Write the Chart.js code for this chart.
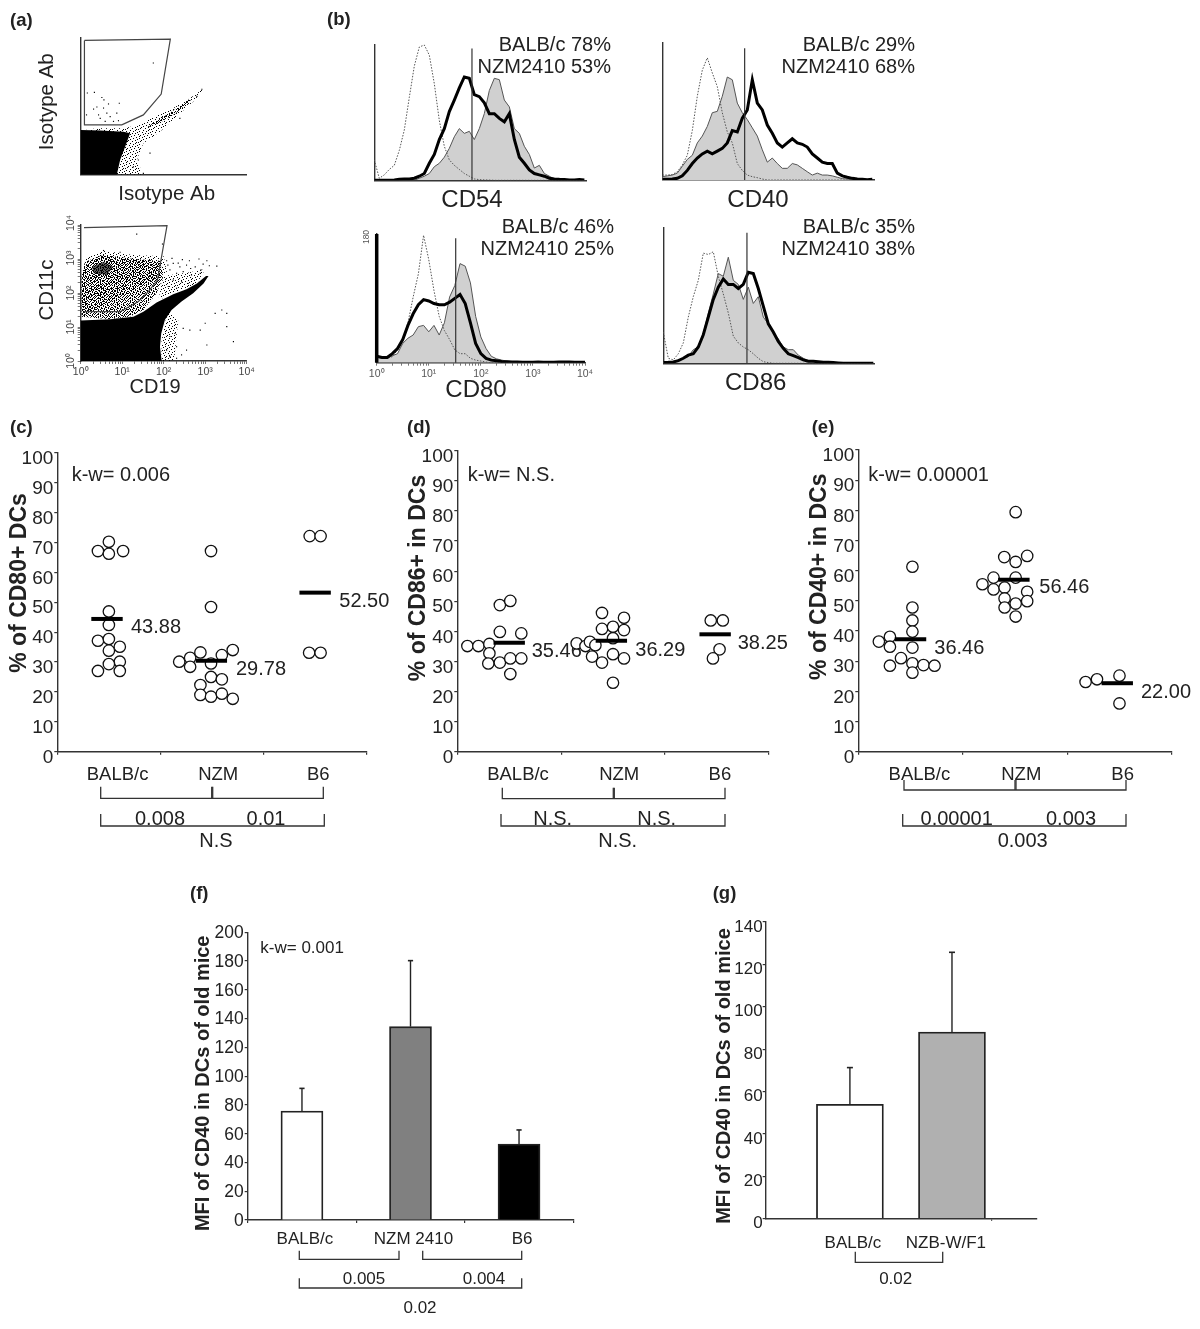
<!DOCTYPE html>
<html>
<head>
<meta charset="utf-8">
<title>DC phenotype</title>
<script src="https://cdn.jsdelivr.net/npm/chart.js@4"></script>
<style>
	html, body { margin: 0; padding: 0; background: #fff; overflow: hidden; }
	#page { position: relative; width: 1200px; height: 1329px; }
	canvas { position: absolute; left: 0; top: 0; }
</style>
</head>
<body>
<div id="page"></div>
<script>
// panel (a): values are log10 decades
var isoBlackX = [0, .87, .95, 1.07, 1.19, 1.03, .47, 0];
var isoBlackY = [0, 0, .43, .82, 1.21, 1.26, 1.29, 1.31];
var isoFuzzX = [.87, 1.51, 1.35, 1.51, 1.91, 2.31, 2.76, 2.97, 2.63, 2.23, 1.83, 1.43, 1.03, .47, .14];
var isoFuzzY = [0, 0, .43, .92, 1.26, 1.70, 2.19, 2.53, 2.24, 1.95, 1.75, 1.46, 1.36, 1.36, 1.33];
var isoStripeX = [1.55, 1.95, 2.35, 2.72, 2.6, 2.2, 1.8];
var isoStripeY = [1.35, 1.55, 1.85, 2.25, 2.2, 1.85, 1.55];
var isoGateX = [.09, 2.16, 1.94, 1.51, .99, .09, .09];
var isoGateY = [3.93, 3.97, 2.36, 1.75, 1.46, 1.46, 3.93];
var isoDotsX = [1.75, .33, .16, .51, .56, .93, .67, .39, .31, .55, .63, .43, .14, .71, .47, .79, .59, .91, .87, 2.8, 2.92, 2.39, 1.51, 1.27, 1.67, 1.39];
var isoDotsY = [3.27, 2.41, 2.39, 2.26, 2.19, 2.09, 2.07, 1.98, 1.92, 1.95, 1.80, 1.75, 1.75, 1.70, 1.65, 1.56, 1.56, 1.58, 1.80, 2.29, 2.5, 1.65, .04, .23, .63, .43];

var cd19BlackX = [0, 1.95, 1.91, 1.94, 2.03, 2.19, 2.43, 2.71, 2.96, 3.08, 3.02, 2.80, 2.55, 2.23, 1.83, 1.51, 1.27, .71, 0];
var cd19BlackY = [0, 0, .42, .81, 1.21, 1.5, 1.75, 1.99, 2.28, 2.5, 2.5, 2.28, 2.11, 1.96, 1.72, 1.45, 1.30, 1.23, 1.19];
var cd19CloudX = [.02, .02, .10, .55, 1.27, 1.91, 1.99, 1.83, 1.51, 1.19, .71];
var cd19CloudY = [1.30, 2.48, 2.92, 3.12, 3.0, 2.95, 2.48, 1.99, 1.50, 1.31, 1.23];
var cd19RimX = [.02, .12, .55, 1.27, 2.0, 2.08, .02];
var cd19RimY = [2.48, 3.02, 3.24, 3.12, 3.08, 2.6, 1.3];
var cd19ClumpX = [.27, .55, .79, .63, .31];
var cd19ClumpY = [2.77, 2.92, 2.77, 2.53, 2.58];
var cd19EdgeX = [1.95, 2.25, 2.35, 2.1, 2.05, 1.95];
var cd19EdgeY = [0, 0, 1.2, 1.5, 1.2, .6];
var cd19RightX = [1.99, 2.6, 3.0, 2.8, 2.15, 1.87];
var cd19RightY = [2.5, 2.6, 2.7, 2.28, 1.96, 1.78];
var cd19GateX = [.08, 2.08, 1.85, 1.63, 1.39, .95, .08];
var cd19GateY = [3.92, 3.98, 2.38, 2.04, 1.75, 1.45, 1.45];
var cd19DotsX = [1.35, 1.97, .55, .95, 2.23, 2.39, 2.55, 2.76, 3.04, 3.28, 2.15, 2.31, 2.47, 2.67, 2.23, 2.43, 2.11, 2.31, 2.59, 2.88, 3.40, 3.24, 3.52, 3.00, 3.52, 2.88, 2.47, 2.63, 2.31, 2.55, 3.04, 3.68, 2.15, 2.27, 2.07, 2.15, 2.31, 2.43, 2.07, 2.2, 2.45, 2.62, 2.85, 2.95, 3.1, 2.65, 2.9, 2.35, 2.1];
var cd19DotsY = [3.73, 3.44, 3.25, 3.2, 2.87, 2.77, 2.82, 2.77, 2.95, 2.79, 2.68, 2.58, 2.63, 2.53, 2.38, 2.33, 2.19, 2.14, 2.28, 2.58, 1.50, 1.40, 1.40, 1.11, 1.01, .91, .96, .91, .42, .32, .47, .57, .72, .81, .32, .13, .08, .18, 2.95, 3.02, 2.98, 2.95, 3.0, 2.85, 2.8, 2.72, 2.68, 2.88, 2.82];
var decadeLabels = ["10⁰", "10¹", "10²", "10³", "10⁴"];

// panel (b): histogram heights in % of the plot
var cd54Dotted = [15, 1.5, 4, 8, 11, 22, 37, 61, 84, 98, 99.5, 92, 71, 44, 25, 15, 11, 8, 5, 3, 1, .5, .3, .2, 0, 0, 0, 0, 0, 0, 0, 0, 0, 0, 0, 0, 0, 0, 0, 0, 0, 0, 0];
var cd54Gray = [0, 0, 0, 0, 0, 0, 0, 0, 0, 1.5, 3, 5, 10, 12.5, 17, 23.5, 32, 38, 34.5, 36, 30, 38, 49, 66, 75, 74, 59, 54, 38, 34.5, 25, 19, 9, 11, 5, 3, 1, .3, 0, 0, 0, 0, 0];
var cd54Black = [0, 0, 0, 0, .3, .7, 1, 1, 1.5, 3, 5, 12.5, 19, 30, 38, 50.5, 59, 68, 76, 75, 63, 61.5, 57, 49, 49, 45.5, 43, 49, 30, 17, 12.5, 7.6, 5, 4, 3, 1.5, 1, .7, .5, .2, .2, .5, .2];
var cd40Dotted = [3.6, 3.6, 4, 6, 11, 18, 36, 61, 80, 89, 78, 68, 49, 35, 27, 12, 7, 3.6, 2.4, 1.7, .7, 0, 0, 0, 0, 0, 0, 0, 0, 0, 0, 0, 0, 0, 0, 0, 0, 0, 0, 0, 0, 0, 0];
var cd40Gray = [2.4, 3, 3.6, 5, 10, 15, 18, 27, 32, 39, 49, 50, 61, 75, 73, 56, 49, 44, 38, 32, 22, 13, 16, 12, 8.5, 8.5, 12, 11, 8.5, 6, 3.6, 5, 3.6, 3.6, 3, 2, 1, .7, .5, 0, 0, 0, 0];
var cd40Black = [.5, .5, .7, 1.2, 3, 7, 12, 16, 19, 21, 19, 21, 23, 27, 36, 35, 45, 51, 73, 56, 51, 40, 34, 27, 24, 27, 30, 27, 26, 24, 19, 16, 13, 12, 12, 5, 3, 2, 1.2, .7, .5, .2, .5];
var cd80Dotted = [5, 3.4, 3.4, 4.7, 10, 18, 31, 51, 69, 99, 80, 56, 36, 25, 18, 10, 7, 7, 3.4, 2, 1.3, .5, 0, 0, 0, 0, 0, 0, 0, 0, 0, 0, 0, 0, 0, 0, 0, 0, 0, 0, 0];
var cd80Gray = [5, 4, 3.4, 5.4, 7, 15, 19, 21.5, 28, 29, 24, 29, 21.5, 31, 51, 60, 77, 75, 62, 36, 20, 11, 5, 3, 2, 1.3, .8, .5, .5, .5, .4, .4, .4, .4, .4, .4, .4, .3, .3, .3, .3];
var cd80Black = [5, 4, 4, 7, 11, 18, 29, 38, 45, 49, 48, 46, 45, 45, 47, 50, 53, 46, 31, 15, 7, 3.4, 2, 1.5, 1, .8, .5, .5, .3, .4, .3, .5, .4, .3, .4, .6, .5, .5, .3, .3, .3];
var cd80Spike = [0, 100];
var cd86Dotted = [23, 3.7, 2.5, 7, 15, 34, 49, 61, 81, 80, 82, 64, 51, 37, 20, 15, 12, 10, 7, 3.7, 1.2, .5, 0, 0, 0, 0, 0, 0, 0, 0, 0, 0, 0, 0, 0, 0, 0, 0, 0, 0, 0, 0, 0];
var cd86Gray = [1.2, 1, 1, 2.5, 3.7, 5, 10, 12, 22, 37, 51, 66, 64, 78, 61, 58, 47, 56, 44, 49, 34, 29, 22, 18, 12, 10, 10, 6, 3.7, 2, 1.2, .7, .5, .2, 0, 0, 0, 0, 0, 0, 0, 0, 0];
var cd86Black = [.5, .7, 1, 2, 3.7, 6, 7, 12, 21, 34, 47, 56, 62, 58, 58, 55, 58, 67, 66, 55, 42, 29, 23, 16, 11, 7, 5.6, 4.2, 2.5, 1.5, 1.5, 1.2, .7, .7, .5, .3, 0, 0, 0, 0, 0, 0, 0];
var histMarkers = { cd54: 19.53, cd40: 16.47, cd80: 15.17, cd86: 16.73 };

// panels (c)(d)(e): one value and one swarm slot per mouse
var groupLabels = ["BALB/c", "NZM", "B6"];
var percentTicks = [0, 10, 20, 30, 40, 50, 60, 70, 80, 90, 100];

var cBalbValues = [70.2, 67.1, 66.2, 67.1, 46.9, 42.4, 37.1, 37.7, 35.1, 33.8, 30.1, 29.3, 27.0, 27.0];
var cBalbSlots = [0, -1, 0, 1.3, 0, 0, -1, 0, 1, 0, 1, 0, -1, 1];
var cNzmValues = [67.1, 48.4, 30.1, 31.4, 28.4, 33.2, 32.3, 34, 29.5, 25, 24.2, 22.3, 19, 18.4, 19.4, 17.7];
var cNzmSlots = [-.09, -.09, -3, -2, -2, -1.06, .9, 1.9, -.09, -.09, .9, -1.06, -1.06, -.09, .9, 1.9];
var cB6Values = [72.1, 72.1, 33.1, 33.1];
var cB6Slots = [-.5, .5, -.55, .5];
var cMeans = [44.4, 30.4, 53.2];
var cMeanSlots = [-.17, -.06, 0];

var dBalbValues = [35.1, 35.1, 35.8, 32.7, 29.3, 29.6, 31, 31, 48.7, 50.1, 39.8, 39.3, 25.8];
var dBalbSlots = [-3.8, -2.8, -1.8, -1.8, -1.9, -.85, .1, 1.1, -.85, .1, -.85, 1.1, .1];
var dNzmValues = [36, 35.1, 36.5, 35.4, 31.6, 40.8, 29.6, 46.1, 41.5, 37.7, 32.4, 22.9, 44.5, 40.4, 31];
var dNzmSlots = [-3.3, -2.5, -2.1, -1.6, -1.9, -1, -1, -1, 0, 0, 0, 0, 1, 1, 1];
var dB6Values = [43.6, 43.6, 34, 31];
var dB6Slots = [-.55, .55, .25, -.35];
var dMeans = [36.2, 36.9, 39];
var dMeanSlots = [0, -.15, -.15];

var eBalbValues = [61.3, 47.8, 43.5, 39.8, 34.5, 31, 29.3, 26.2, 38.1, 34.8, 36.5, 28.5, 28.7, 28.5];
var eBalbSlots = [.17, .17, .17, .17, .17, -.86, .17, .17, -1.86, -1.86, -2.86, -1.86, 1.17, 2.17];
var eNzmValues = [79.4, 64.5, 64.9, 62.9, 57.7, 57.7, 55.5, 53.8, 54.4, 50.8, 53, 49.9, 49.1, 47.8, 44.8];
var eNzmSlots = [.06, -.97, 1.1, .06, .06, -1.94, -2.94, -1.94, -.94, -.94, 1.1, 1.1, .06, -.94, .06];
var eB6Values = [23.1, 24, 25.2, 16];
var eB6Slots = [-3.06, -2.03, 0, 0];
var eMeans = [37.3, 57, 22.7];
var eMeanSlots = [0, -.1, -.2];

// panels (f)(g)
var fLabels = ["BALB/c", "NZM 2410", "B6"];
var fMeans = [75.8, 134.4, 52.8];
var fUpper = [91.5, 180.3, 62.6];
var fColors = ["#ffffff", "#808080", "#000000"];
var gLabels = ["BALB/c", "NZB-W/F1"];
var gMeans = [54, 88.1];
var gUpper = [71.3, 125.7];
var gColors = ["#ffffff", "#b0b0b0"];

var FONT = '"Liberation Sans", Arial, sans-serif';
var INK = "#222";
var AXIS = "#333";
var Y_BOX = 52;
var X_BOX = 44;
var logMinor = [0, .301, .477, .602, .699, .778, .845, .903, .954];
var slotWidth = .106;
var columnCentres = [.5, 1.5, 2.5];
var xLabelAt = [.585, 1.56, 2.53];

function pairs(xs, ys) {
	return xs.map(function (x, i) {
		return { x: x, y: ys[i] };
	});
}

function channelPoints(values) {
	return values.map(function (v, i) {
		return { x: i, y: v };
	});
}

// dot textures for the parts of the cytometry plots too dense to read one by one
function stipple(rows) {
	var tile = document.createElement("canvas");
	tile.width = rows[0].length;
	tile.height = rows.length;
	var c = tile.getContext("2d");
	c.fillStyle = "#000";
	rows.forEach(function (row, y) {
		row.split("").forEach(function (cell, x) {
			if (cell == "#") c.fillRect(x, y, 1, 1);
		});
	});
	return c.createPattern(tile, "repeat");
}

var denseDots = stipple([
	"#..#.##..#.#..#.",
	".#...#.#...##..#",
	"..##...#.#...#..",
	"#..#.#...##.#..#",
	".#...##.#...#.#.",
	"#.#.#...#.#...##",
	"..#..#.#..##.#..",
	".#.##....#..#..#",
	"#...#.#.#..#..#.",
	"..#...##..#..#.#",
	".##.#...#...#.#.",
	"#...#.#..##.#...",
	"..#.#..#...#.#.#",
	"#.#...#.#.#...#.",
	"..#.##...#..##..",
	".#...#.#...#...#",
]);
var lightDots = stipple([
	"#....#.......",
	"...#.....#...",
	".......#....#",
	"..#..#.......",
	"#.......#....",
	"....#.....#..",
	".#.......#...",
	"......#.....#",
	"...#.....#...",
	"#......#.....",
	".....#.....#.",
	"..#.......#..",
	"......#.#....",
]);

// every panel is a full page canvas, its plot placed by layout padding,
// so the notes below can use page coordinates
var notesPlugin = {
	id: "notes",
	beforeDatasetsDraw: function (chart, args, opts) {
		var ctx = chart.ctx;
		ctx.save();
		ctx.strokeStyle = AXIS;
		ctx.lineWidth = 1.3;
		(opts.lines || []).forEach(function (line) {
			ctx.beginPath();
			line.forEach(function (p, i) {
				if (i == 0) ctx.moveTo(p[0], p[1]);
				else ctx.lineTo(p[0], p[1]);
			});
			ctx.stroke();
		});
		(opts.texts || []).forEach(function (t) {
			ctx.save();
			ctx.translate(t.x, t.y);
			if (t.rotate) ctx.rotate(-Math.PI / 2);
			ctx.font = t.font || "20px " + FONT;
			ctx.fillStyle = t.color || INK;
			ctx.textAlign = t.align || "left";
			ctx.textBaseline = "alphabetic";
			ctx.fillText(t.text, 0, 0);
			ctx.restore();
		});
		ctx.restore();
	},
};
Chart.register(notesPlugin);

// fixed axis boxes keep the plot area exactly where it is asked for
function fixedBox(scale) {
	if (scale.isHorizontal()) scale.height = X_BOX;
	else scale.width = Y_BOX;
	scale.paddingLeft = 0;
	scale.paddingRight = 0;
	scale.paddingTop = 0;
	scale.paddingBottom = 0;
}

function addChart(area, config, notes) {
	var canvas = document.createElement("canvas");
	canvas.width = 1200;
	canvas.height = 1329;
	document.getElementById("page").appendChild(canvas);
	config.options.responsive = false;
	config.options.animation = false;
	config.options.events = [];
	config.options.layout = {
		padding: { left: area[0] - Y_BOX, top: area[1], right: 1200 - area[2], bottom: 1329 - area[3] - X_BOX },
	};
	config.options.plugins = {
		legend: { display: false },
		tooltip: { enabled: false },
		notes: notes || {},
	};
	config.options.elements = { point: { hoverRadius: 0 } };
	return new Chart(canvas, config);
}

function hiddenTickScale(min, max) {
	return {
		type: "linear",
		min: min,
		max: max,
		afterFit: fixedBox,
		afterBuildTicks: function (scale) {
			scale.ticks = [];
		},
		grid: { display: true, drawOnChartArea: false, drawTicks: false, color: AXIS },
		border: { color: AXIS, width: 1.4 },
		ticks: { display: false },
	};
}

function logTicks(scale) {
	var list = [];
	for (var k = 0; k < 4; k++) {
		logMinor.forEach(function (m) {
			list.push({ value: k + m });
		});
	}
	list.push({ value: 4 });
	scale.ticks = list;
}

function logScale(labelled) {
	return {
		type: "linear",
		min: 0,
		max: 4,
		afterFit: fixedBox,
		afterBuildTicks: logTicks,
		grid: { drawOnChartArea: false, tickLength: 3, color: "#555", lineWidth: 0.8 },
		border: { color: AXIS, width: 1.4 },
		ticks: {
			display: labelled,
			autoSkip: false,
			maxRotation: 0,
			padding: 2,
			color: "#444",
			font: { family: FONT, size: 10.5 },
			callback: function (v) {
				return Number.isInteger(v) ? decadeLabels[v] : "";
			},
		},
	};
}

function shape(xs, ys, fillStyle) {
	return {
		data: pairs(xs, ys),
		showLine: true,
		fill: "shape",
		backgroundColor: fillStyle,
		borderColor: "transparent",
		borderWidth: 0,
		pointRadius: 0,
		tension: 0,
	};
}

function speckles(xs, ys) {
	return {
		data: pairs(xs, ys),
		pointStyle: "rect",
		pointRadius: 0.8,
		pointBorderWidth: 0,
		backgroundColor: "#000",
		clip: false,
	};
}

function gateLine(xs, ys) {
	return {
		data: pairs(xs, ys),
		showLine: true,
		fill: false,
		borderColor: "#444",
		borderWidth: 1.2,
		pointRadius: 0,
		tension: 0,
		clip: false,
	};
}

// panel (a), top
addChart([80.7, 38, 246.7, 174.7], {
	type: "scatter",
	data: {
		datasets: [
			gateLine(isoGateX, isoGateY),
			speckles(isoDotsX, isoDotsY),
			shape(isoBlackX, isoBlackY, "#000"),
			shape(isoStripeX, isoStripeY, denseDots),
			shape(isoFuzzX, isoFuzzY, lightDots),
		],
	},
	options: { scales: { x: hiddenTickScale(0, 4), y: hiddenTickScale(0, 4) } },
}, {
	texts: [
		{ text: "(a)", x: 10, y: 26, font: "bold 18.5px " + FONT },
		{ text: "Isotype Ab", x: 52.5, y: 101.7, rotate: true, align: "center", font: "20.5px " + FONT },
		{ text: "Isotype Ab", x: 166.7, y: 200, align: "center", font: "20.5px " + FONT },
	],
});

// panel (a), bottom
addChart([80.7, 225, 246.7, 361], {
	type: "scatter",
	data: {
		datasets: [
			gateLine(cd19GateX, cd19GateY),
			speckles(cd19DotsX, cd19DotsY),
			shape(cd19BlackX, cd19BlackY, "#000"),
			shape(cd19ClumpX, cd19ClumpY, "rgba(0,0,0,0.65)"),
			shape(cd19CloudX, cd19CloudY, denseDots),
			shape(cd19RimX, cd19RimY, lightDots),
			shape(cd19EdgeX, cd19EdgeY, lightDots),
			shape(cd19RightX, cd19RightY, lightDots),
		],
	},
	options: { scales: { x: logScale(true), y: logScale(false) } },
}, {
	texts: [
		{ text: "CD11c", x: 52.5, y: 290, rotate: true, align: "center", font: "20.5px " + FONT },
		{ text: "CD19", x: 155, y: 393.3, align: "center", font: "20px " + FONT },
		{ text: decadeLabels[0], x: 74, y: 361, rotate: true, align: "center", color: "#444", font: "10.5px " + FONT },
		{ text: decadeLabels[1], x: 74, y: 327, rotate: true, align: "center", color: "#444", font: "10.5px " + FONT },
		{ text: decadeLabels[2], x: 74, y: 293, rotate: true, align: "center", color: "#444", font: "10.5px " + FONT },
		{ text: decadeLabels[3], x: 74, y: 258, rotate: true, align: "center", color: "#444", font: "10.5px " + FONT },
		{ text: decadeLabels[4], x: 74, y: 223, rotate: true, align: "center", color: "#444", font: "10.5px " + FONT },
	],
});

// panel (b)
function histogram(area, channels, series, markerAt, markerTop, logAxis, spike, notes) {
	var datasets = [
		{
			data: [{ x: markerAt, y: 0 }, { x: markerAt, y: markerTop }],
			showLine: true,
			borderColor: "#333",
			borderWidth: 1.2,
			pointRadius: 0,
			clip: false,
		},
		{
			data: channelPoints(series[2]),
			showLine: true,
			borderColor: "#000",
			borderWidth: 3,
			pointRadius: 0,
		},
		{
			data: channelPoints(series[0]),
			showLine: true,
			borderColor: "#555",
			borderWidth: 1,
			borderDash: [1.5, 1.5],
			pointRadius: 0,
		},
		{
			data: channelPoints(series[1]),
			showLine: true,
			borderColor: "#555",
			borderWidth: 1,
			backgroundColor: "#d0d0d0",
			fill: "origin",
			pointRadius: 0,
		},
	];
	if (spike) {
		datasets.unshift({
			data: [{ x: 0, y: spike[0] }, { x: 0, y: spike[1] }],
			showLine: true,
			borderColor: "#000",
			borderWidth: 3.5,
			pointRadius: 0,
			clip: false,
		});
	}
	var xScale = hiddenTickScale(0, channels);
	if (logAxis) {
		xScale = logScale(true);
		xScale.max = channels;
		xScale.afterBuildTicks = function (scale) {
			logTicks(scale);
			scale.ticks.forEach(function (t) {
				t.value = t.value * 10;
			});
		};
		xScale.ticks.callback = function (v) {
			return v % 10 == 0 ? decadeLabels[v / 10] : "";
		};
		xScale.ticks.color = "#555";
	}
	var yScale = hiddenTickScale(0, 100);
	addChart(area, { type: "scatter", data: { datasets: datasets }, options: { scales: { x: xScale, y: yScale } } }, notes);
}

function percentNotes(lineA, lineB, right, y1, y2) {
	return [
		{ text: lineA, x: right, y: y1, align: "right" },
		{ text: lineB, x: right, y: y2, align: "right" },
	];
}

histogram([374.3, 44.3, 586, 180.3], 42.33, [cd54Dotted, cd54Gray, cd54Black], histMarkers.cd54, 97, false, null, {
	texts: percentNotes("BALB/c 78%", "NZM2410 53%", 611, 51, 73).concat([
		{ text: "(b)", x: 327, y: 25, font: "bold 18.5px " + FONT },
		{ text: "CD54", x: 472, y: 207, align: "center", font: "24px " + FONT },
	]),
});
histogram([662.3, 42.7, 874.3, 180], 42.4, [cd40Dotted, cd40Gray, cd40Black], histMarkers.cd40, 96, false, null, {
	texts: percentNotes("BALB/c 29%", "NZM2410 68%", 915, 51, 73).concat([
		{ text: "CD40", x: 758, y: 207, align: "center", font: "24px " + FONT },
	]),
});
histogram([376.7, 234, 585, 362.7], 40, [cd80Dotted, cd80Gray, cd80Black], histMarkers.cd80, 96.7, true, cd80Spike, {
	texts: percentNotes("BALB/c 46%", "NZM2410 25%", 614, 232.7, 255).concat([
		{ text: "CD80", x: 476, y: 396.7, align: "center", font: "24px " + FONT },
		{ text: "180", x: 369, y: 237, rotate: true, align: "center", color: "#555", font: "8.5px " + FONT },
	]),
});
histogram([663.3, 227.3, 874.3, 363.3], 42.2, [cd86Dotted, cd86Gray, cd86Black], histMarkers.cd86, 96, false, null, {
	texts: percentNotes("BALB/c 35%", "NZM2410 38%", 915, 232.7, 255).concat([
		{ text: "CD86", x: 755.7, y: 390, align: "center", font: "24px " + FONT },
	]),
});

// panels (c)(d)(e)
function dotPanel(area, columns, means, meanSlots, notes) {
	var dots = [];
	columns.forEach(function (col, c) {
		col[0].forEach(function (v, i) {
			dots.push({ x: columnCentres[c] + col[1][i] * slotWidth, y: v });
		});
	});
	var bars = means.map(function (v, c) {
		return { x: columnCentres[c] + meanSlots[c] * slotWidth, y: v };
	});
	addChart(area, {
		type: "scatter",
		data: {
			datasets: [
				{
					data: bars,
					pointStyle: "line",
					pointRadius: 15.7,
					pointBorderWidth: 4,
					borderColor: "#000",
					clip: false,
				},
				{
					data: dots,
					pointStyle: "circle",
					pointRadius: 5.7,
					pointBorderWidth: 1.3,
					borderColor: "#111",
					backgroundColor: "#fff",
					clip: false,
				},
			],
		},
		options: {
			scales: {
				x: {
					type: "linear",
					min: 0,
					max: 3,
					afterFit: fixedBox,
					afterBuildTicks: function (scale) {
						scale.ticks = [0, xLabelAt[0], 1, xLabelAt[1], 2, xLabelAt[2], 3].map(function (v) {
							return { value: v };
						});
					},
					grid: {
						drawOnChartArea: false,
						tickLength: 3,
						lineWidth: 1.2,
						tickColor: function (ctx) {
							return ctx.tick && Number.isInteger(ctx.tick.value) ? AXIS : "transparent";
						},
					},
					border: { color: AXIS, width: 1.4 },
					ticks: {
						autoSkip: false,
						maxRotation: 0,
						padding: 9,
						color: INK,
						font: { family: FONT, size: 18.5 },
						callback: function (v) {
							var at = xLabelAt.indexOf(v);
							return at < 0 ? "" : groupLabels[at];
						},
					},
				},
				y: {
					type: "linear",
					min: 0,
					max: 100,
					afterFit: fixedBox,
					afterBuildTicks: function (scale) {
						scale.ticks = percentTicks.map(function (v) {
							return { value: v };
						});
					},
					grid: { drawOnChartArea: false, tickLength: 3, lineWidth: 1.2, color: AXIS },
					border: { color: AXIS, width: 1.4 },
					ticks: {
						padding: 1,
						labelOffset: 6,
						color: INK,
						font: { family: FONT, size: 19 },
					},
				},
			},
		},
	}, notes);
}

function bracket(left, right, top, bottom, mid) {
	var lines = [[[left, top], [left, bottom], [right, bottom], [right, top]]];
	if (mid) lines.push([[mid, top], [mid, bottom]], [[mid + 1, top], [mid + 1, bottom]]);
	return lines;
}

function titleNote(text, x, y, size) {
	return { text: text, x: x, y: y, rotate: true, align: "center", font: "bold " + size + "px " + FONT };
}

dotPanel([57.3, 452.7, 366.7, 751.7], [[cBalbValues, cBalbSlots], [cNzmValues, cNzmSlots], [cB6Values, cB6Slots]], cMeans, cMeanSlots, {
	lines: bracket(100.7, 323.3, 786.7, 798.3, 211.7).concat(bracket(100.7, 324.3, 814, 826)),
	texts: [
		{ text: "(c)", x: 10, y: 432.7, font: "bold 18.5px " + FONT },
		titleNote("% of CD80+ DCs", 26, 583, 23),
		{ text: "k-w= 0.006", x: 71.7, y: 480.7 },
		{ text: "43.88", x: 131, y: 633.3 },
		{ text: "29.78", x: 236, y: 675 },
		{ text: "52.50", x: 339.3, y: 607.3 },
		{ text: "0.008", x: 160, y: 825, align: "center" },
		{ text: "0.01", x: 266, y: 825, align: "center" },
		{ text: "N.S", x: 216, y: 846.7, align: "center" },
	],
});
dotPanel([457.3, 450.7, 768.7, 751.7], [[dBalbValues, dBalbSlots], [dNzmValues, dNzmSlots], [dB6Values, dB6Slots]], dMeans, dMeanSlots, {
	lines: bracket(502.3, 725, 787.7, 798.7, 613.3).concat(bracket(501, 725, 814, 826)),
	texts: [
		{ text: "(d)", x: 407, y: 432.7, font: "bold 18.5px " + FONT },
		titleNote("% of CD86+ in DCs", 424.5, 578, 23),
		{ text: "k-w= N.S.", x: 467.7, y: 480.7 },
		{ text: "35.46", x: 531.7, y: 656.7 },
		{ text: "36.29", x: 635.3, y: 655.5 },
		{ text: "38.25", x: 737.7, y: 649 },
		{ text: "N.S.", x: 552.7, y: 825, align: "center" },
		{ text: "N.S.", x: 656.7, y: 825, align: "center" },
		{ text: "N.S.", x: 617.7, y: 846.7, align: "center" },
	],
});
dotPanel([858.3, 450, 1171.7, 751.7], [[eBalbValues, eBalbSlots], [eNzmValues, eNzmSlots], [eB6Values, eB6Slots]], eMeans, eMeanSlots, {
	lines: bracket(904, 1126, 780, 790, 1015).concat(bracket(902.7, 1126, 814, 826)),
	texts: [
		{ text: "(e)", x: 811.7, y: 432.7, font: "bold 18.5px " + FONT },
		titleNote("% of CD40+ in DCs", 826, 576.7, 23),
		{ text: "k-w= 0.00001", x: 868.3, y: 480.7 },
		{ text: "36.46", x: 934.3, y: 654 },
		{ text: "56.46", x: 1039.3, y: 593.3 },
		{ text: "22.00", x: 1141, y: 698.3 },
		{ text: "0.00001", x: 956.7, y: 825, align: "center" },
		{ text: "0.003", x: 1071, y: 825, align: "center" },
		{ text: "0.003", x: 1022.7, y: 846.7, align: "center" },
	],
});

// panels (f)(g)
function whisker(label, low, high) {
	return {
		type: "line",
		data: [{ x: label, y: low }, { x: label, y: high }],
		borderColor: "#222",
		borderWidth: 1.4,
		pointStyle: "line",
		pointRadius: [0, 2.6],
		pointBorderWidth: 1.6,
		clip: false,
	};
}

var fDatasets = fLabels.map(function (label, i) {
	return whisker(label, fMeans[i], fUpper[i]);
});
fDatasets.push({
	type: "bar",
	data: fMeans,
	backgroundColor: fColors,
	borderColor: "#222",
	borderWidth: 1.8,
	barThickness: 42,
});

addChart([247.7, 932.3, 573.3, 1220], {
	type: "bar",
	data: { labels: fLabels, datasets: fDatasets },
	options: {
		scales: {
			x: {
				afterFit: fixedBox,
				grid: { drawOnChartArea: false, tickLength: 3, color: AXIS, lineWidth: 1.2 },
				border: { color: AXIS, width: 1.4 },
				ticks: { autoSkip: false, maxRotation: 0, padding: 6, labelOffset: 3, color: INK, font: { family: FONT, size: 17 } },
			},
			y: {
				min: 0,
				max: 200,
				afterFit: fixedBox,
				grid: { drawOnChartArea: false, tickLength: 3, color: AXIS, lineWidth: 1.2 },
				border: { color: AXIS, width: 1.4 },
				ticks: { stepSize: 20, padding: 1, labelOffset: 1, color: INK, font: { family: FONT, size: 17.5 } },
			},
		},
	},
}, {
	lines: bracket(299.3, 399, 1250.7, 1259.3).concat(bracket(422.7, 521.7, 1250.7, 1259.3), bracket(299.3, 521.7, 1278.3, 1288)),
	texts: [
		{ text: "(f)", x: 190, y: 899, font: "bold 18.5px " + FONT },
		titleNote("MFI of CD40 in DCs of old mice", 208.5, 1083.3, 20),
		{ text: "k-w= 0.001", x: 260.3, y: 953.3, font: "17px " + FONT },
		{ text: "0.005", x: 364, y: 1284, align: "center", font: "17px " + FONT },
		{ text: "0.004", x: 484, y: 1284, align: "center", font: "17px " + FONT },
		{ text: "0.02", x: 420, y: 1312.7, align: "center", font: "17px " + FONT },
	],
});

var gLabelAt = [1.03, 1.94];
var gAxisEnd = 2.83;
var gDatasets = gMeans.map(function (v, i) {
	return {
		type: "line",
		data: [{ x: i + 1, y: v }, { x: i + 1, y: gUpper[i] }],
		borderColor: "#222",
		borderWidth: 1.4,
		pointStyle: "line",
		pointRadius: [0, 3],
		pointBorderWidth: 1.6,
		clip: false,
	};
});
gDatasets.push({
	type: "bar",
	data: pairs([1, 2], gMeans),
	backgroundColor: gColors,
	borderColor: "#222",
	borderWidth: 1.8,
	barThickness: 67,
});

addChart([765.7, 922, 1036.7, 1218.7], {
	type: "bar",
	data: { datasets: gDatasets },
	options: {
		scales: {
			x: {
				type: "linear",
				min: .175,
				max: gAxisEnd,
				offset: false,
				afterFit: fixedBox,
				afterBuildTicks: function (scale) {
					scale.ticks = gLabelAt.concat([gAxisEnd]).map(function (v) {
						return { value: v };
					});
				},
				grid: {
					drawOnChartArea: false,
					tickLength: 2,
					lineWidth: 1.2,
					tickColor: function (ctx) {
						return ctx.tick && ctx.tick.value == gAxisEnd ? AXIS : "transparent";
					},
				},
				border: { color: AXIS, width: 1.4 },
				ticks: {
					autoSkip: false,
					maxRotation: 0,
					padding: 12,
					color: INK,
					font: { family: FONT, size: 17 },
					callback: function (v) {
						var at = gLabelAt.indexOf(v);
						return at < 0 ? "" : gLabels[at];
					},
				},
			},
			y: {
				min: 0,
				max: 140,
				afterFit: fixedBox,
				grid: { drawOnChartArea: false, tickLength: 3, color: AXIS, lineWidth: 1.2 },
				border: { color: AXIS, width: 1.4 },
				ticks: { stepSize: 20, padding: 0, labelOffset: 5, color: INK, font: { family: FONT, size: 17 } },
			},
		},
	},
}, {
	lines: bracket(855.3, 942.7, 1251.7, 1262.3),
	texts: [
		{ text: "(g)", x: 712.7, y: 899, font: "bold 18.5px " + FONT },
		titleNote("MFI of CD40 in DCs of old mice", 729.5, 1076, 20),
		{ text: "0.02", x: 895.7, y: 1284, align: "center", font: "17px " + FONT },
	],
});
</script>
</body>
</html>
